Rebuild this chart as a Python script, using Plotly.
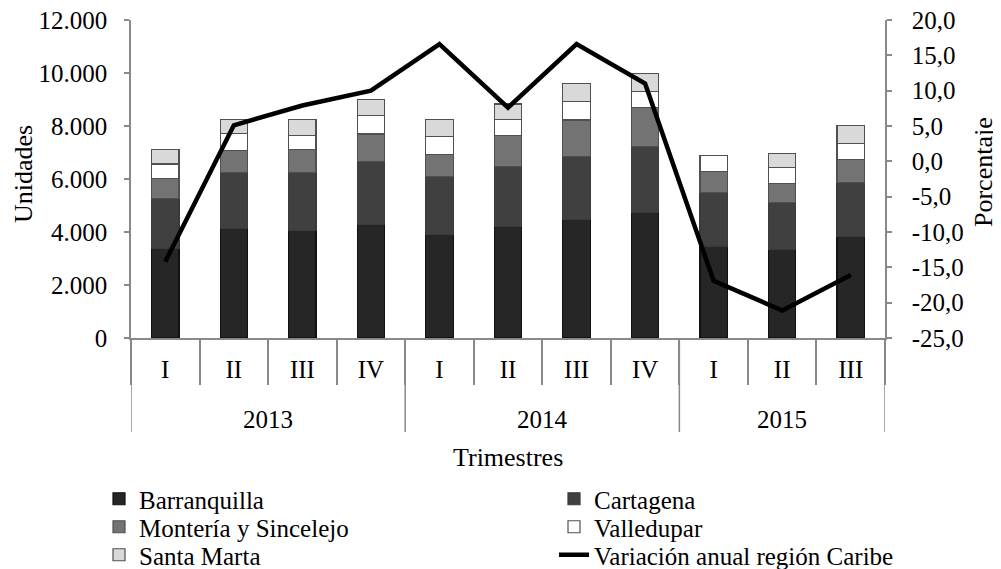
import plotly.graph_objects as go

years = ["2013"] * 4 + ["2014"] * 4 + ["2015"] * 3
quarters = ["I", "II", "III", "IV", "I", "II", "III", "IV", "I", "II", "III"]
year_labels = ["2013", "2014", "2015"]

barranquilla = [3390, 4135, 4060, 4285, 3910, 4220, 4460, 4750, 3470, 3330, 3845]
cartagena = [1865, 2100, 2175, 2385, 2185, 2250, 2385, 2475, 2025, 1785, 2025]
monteria = [775, 840, 865, 1030, 830, 1170, 1385, 1480, 790, 725, 855]
valledupar = [540, 630, 550, 690, 690, 600, 690, 590, 605, 605, 625]
santa_marta = [540, 540, 590, 605, 630, 590, 675, 690, 0, 515, 665]
variacion = [-14.2, 5.1, 7.9, 10.0, 16.6, 7.6, 16.6, 11.0, -16.9, -21.1, -16.1]

left_ticks = [0, 2000, 4000, 6000, 8000, 10000, 12000]
left_text = ["0", "2.000", "4.000", "6.000", "8.000", "10.000", "12.000"]
right_ticks = [-25, -20, -15, -10, -5, 0, 5, 10, 15, 20]
right_text = ["-25,0", "-20,0", "-15,0", "-10,0", "-5,0", "0,0", "5,0", "10,0", "15,0", "20,0"]

FONT = "Liberation Serif"
AX = "#898989"
cats = [f"{y} {q}" for y, q in zip(years, quarters)]

fig = go.Figure()
series = [
    ("Barranquilla", barranquilla, "#262626", "#111111", "legend"),
    ("Cartagena", cartagena, "#404040", "#3a3a3a", "legend2"),
    ("Montería y Sincelejo", monteria, "#737373", "#505050", "legend3"),
    ("Valledupar", valledupar, "#ffffff", "#505050", "legend4"),
    ("Santa Marta", santa_marta, "#d9d9d9", "#505050", "legend5"),
]
for name, vals, col, lc, lg in series:
    fig.add_trace(go.Bar(x=cats, y=vals, name=name, marker=dict(color=col, line=dict(color=lc, width=1.2)),
                         legend=lg))
fig.add_trace(go.Scatter(x=cats, y=variacion, name="Variación anual región Caribe", mode="lines",
                         line=dict(color="black", width=4.5), yaxis="y2", legend="legend6"))

# page body has an 8px margin: figure is drawn at offset (8, 8) in the window
OFF = 8
W, H = 1001 - OFF, 569 - OFF
PL, PR, PT, PB = 131, 885, 20, 338          # plot area in window pixels
L, R, T, B = PL - OFF, (OFF + W) - PR, PT - OFF, (OFF + H) - PB
pw, ph = PR - PL, PB - PT

def px_x(p):
    return (p - PL) / pw

def px_y(p):
    return (PB - p) / ph

lfont = dict(family=FONT, size=25, color="black")
col1, col2 = px_x(99), px_x(554)
rows = [499, 527, 555]
legend_pos = {
    "legend": (col1, rows[0]), "legend2": (col2, rows[0]),
    "legend3": (col1, rows[1]), "legend4": (col2, rows[1]),
    "legend5": (col1, rows[2]), "legend6": (col2, rows[2]),
}
layout_legends = {}
for k, (lx, ly) in legend_pos.items():
    layout_legends[k] = dict(x=lx, y=px_y(ly), xanchor="left", yanchor="middle", font=lfont,
                             bgcolor="rgba(0,0,0,0)", borderwidth=0, tracegroupgap=0)

# year group boundaries and label positions (category index units)
bounds = [-0.5]
centers = []
start = 0
for yl in year_labels:
    n = years.count(yl)
    centers.append(start + (n - 1) / 2)
    start += n
    bounds.append(start - 0.5)

shapes = [dict(type="line", xref="x", yref="paper", x0=b, x1=b, y0=0, y1=px_y(432),
               line=dict(color=AX, width=1.5)) for b in bounds]
annotations = [dict(text=yl, x=c, y=px_y(419), xref="x", yref="paper", showarrow=False,
                    xanchor="center", yanchor="middle",
                    font=dict(family=FONT, size=25, color="black")) for yl, c in zip(year_labels, centers)]
annotations += [
    dict(text="Unidades", x=px_x(23), y=px_y(174), xref="paper", yref="paper", showarrow=False,
         xanchor="center", yanchor="middle", textangle=-90, font=dict(family=FONT, size=26, color="black")),
    dict(text="Porcentaje", x=px_x(983), y=px_y(172), xref="paper", yref="paper", showarrow=False,
         xanchor="center", yanchor="middle", textangle=-90, font=dict(family=FONT, size=26, color="black")),
    dict(text="Trimestres", x=px_x(508), y=px_y(457), xref="paper", yref="paper", showarrow=False,
         xanchor="center", yanchor="middle", font=dict(family=FONT, size=26, color="black")),
]

fig.update_layout(
    width=W, height=H,
    margin=dict(l=L, r=R, t=T, b=B, pad=0, autoexpand=False),
    paper_bgcolor="white", plot_bgcolor="white",
    barmode="stack", bargap=0.6,
    font=dict(family=FONT, size=25, color="black"),
    showlegend=True,
    xaxis=dict(type="category", range=[-0.5, 10.5], showline=True, linecolor=AX, linewidth=1.5,
               tickmode="array", tickvals=cats, ticktext=quarters, tickson="boundaries",
               ticks="outside", ticklen=45, tickcolor=AX, tickwidth=1.5, ticklabelstandoff=8,
               automargin=False, tickfont=dict(family=FONT, size=25, color="black"), showgrid=False),
    yaxis=dict(range=[0, 12000], tickvals=left_ticks, ticktext=left_text, showline=True,
               linecolor=AX, linewidth=1.5, ticks="outside", ticklen=5, tickcolor=AX, tickwidth=1.5,
               showgrid=False, zeroline=False, ticklabelstandoff=12, automargin=False,
               ticklabeloverflow="allow",
               tickfont=dict(family=FONT, size=25, color="black")),
    yaxis2=dict(range=[-25, 20], tickvals=right_ticks, ticktext=right_text, overlaying="y", side="right",
                showline=True, linecolor=AX, linewidth=1.5, ticks="outside", ticklen=5, tickcolor=AX,
                tickwidth=1.5, showgrid=False, zeroline=False, ticklabelstandoff=15, automargin=False,
                ticklabeloverflow="allow",
                tickfont=dict(family=FONT, size=25, color="black")),
    shapes=shapes,
    annotations=annotations,
    **layout_legends,
)

fig.write_html("out.html")
